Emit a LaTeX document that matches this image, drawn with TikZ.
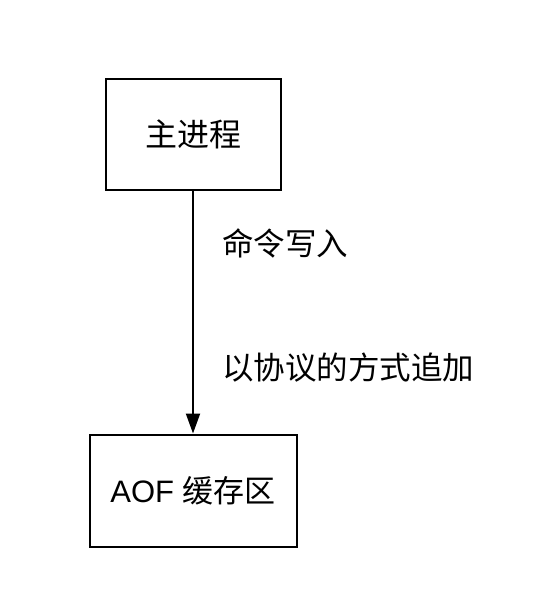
\documentclass[tikz,border=0pt]{standalone}
\usepackage{fontspec}
\setmainfont{Liberation Sans}
\newfontfamily\cjk{Noto Sans CJK SC}
\usetikzlibrary{arrows.meta}
\begin{document}
\begin{tikzpicture}[x=1pt,y=-1pt,
  box/.style={draw,line width=2pt,inner sep=0pt},
  lbl/.style={anchor=west,inner sep=0pt,font=\fontsize{31.5}{36}\selectfont\cjk},
  conn/.style={line width=2pt,-{Triangle[length=20pt,width=14pt]}}]
\useasboundingbox (0,0) rectangle (540,608);
\node[box,minimum width=175pt,minimum height=111pt,font=\fontsize{32}{38}\selectfont\cjk] (main) at (193,134.5) {主进程};
\node[box,minimum width=207pt,minimum height=112pt,font=\fontsize{31}{36}\selectfont] (aof) at (193,490.5) {AOF {\cjk 缓存区}};
\draw[conn] (main) -- (aof);
\node[lbl] (l1) at (222,243) {命令写入};
\node[lbl] (l2) at (222,368) {以协议的方式追加};
\end{tikzpicture}
\end{document}
